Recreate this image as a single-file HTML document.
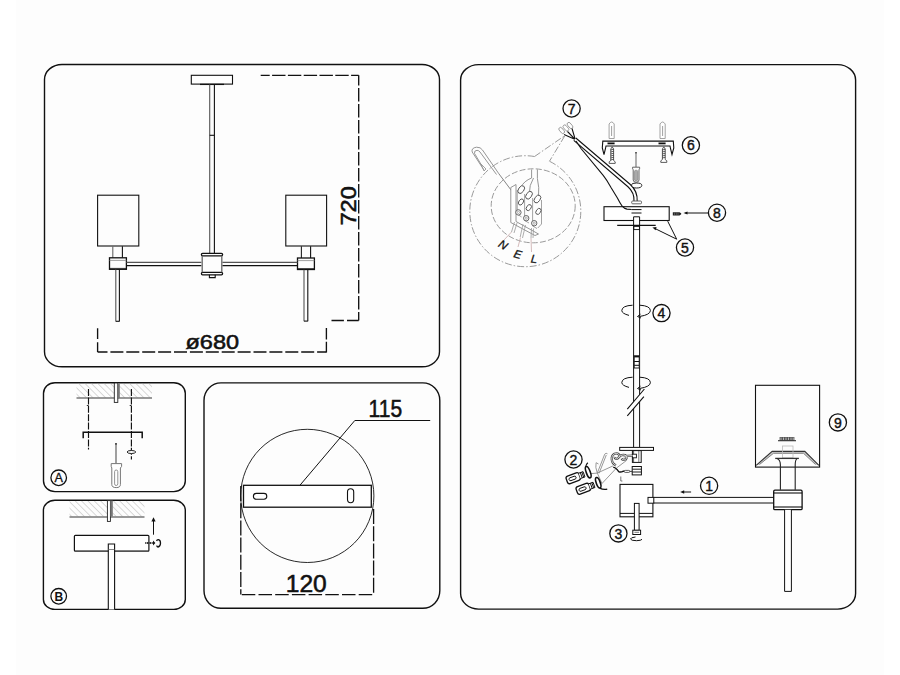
<!DOCTYPE html>
<html><head><meta charset="utf-8"><style>
html,body{margin:0;padding:0;background:#fff;width:900px;height:675px;overflow:hidden}
svg{display:block}
text{font-family:"Liberation Sans",sans-serif}
</style></head><body>
<svg width="900" height="675" viewBox="0 0 900 675">
<defs>
<pattern id="hatch" patternUnits="userSpaceOnUse" width="4.5" height="4.5" patternTransform="rotate(-45)">
<line x1="0" y1="0" x2="0" y2="4.5" stroke="#a0a0a0" stroke-width="0.8"/>
</pattern>
</defs>
<rect width="900" height="675" fill="#fff"/>
<rect x="16" y="0" width="868" height="675" fill="#fdfdfd"/>
<g fill="none" stroke="#111" stroke-width="1.4">
<!-- panels -->
<rect x="44.5" y="64.5" width="395" height="302.3" rx="17.5" ry="15"/>
<rect x="43.5" y="382.7" width="141.8" height="108.9" rx="11.5" ry="10.5"/>
<rect x="43.4" y="500.3" width="141.9" height="109.1" rx="11.5" ry="10"/>
<rect x="204" y="382.9" width="235.8" height="225.4" rx="17" ry="17.5"/>
<rect x="460.6" y="64.6" width="395" height="544.5" rx="18" ry="15.5"/>
</g>

<!-- ===== PANEL 1: main chandelier ===== -->
<g fill="none" stroke="#111" stroke-width="1.1">
<rect x="191.3" y="75.3" width="41.2" height="8.8" fill="#fff"/>
<line x1="200" y1="84.4" x2="224" y2="84.4" stroke-width="1.3"/>
<line x1="209.7" y1="84.5" x2="209.7" y2="253.5" stroke="#555"/>
<line x1="214.4" y1="84.5" x2="214.4" y2="253.5"/>
<line x1="209.7" y1="135.3" x2="214.4" y2="135.3"/>
<!-- shades -->
<rect x="97.6" y="195.2" width="41.2" height="50.8"/>
<rect x="285.8" y="195.2" width="40.8" height="50.8"/>
<!-- necks -->
<line x1="112.8" y1="246.2" x2="112.8" y2="257.8" stroke="#666"/>
<line x1="122.4" y1="246.2" x2="122.4" y2="257.8"/>
<line x1="301.4" y1="246.2" x2="301.4" y2="258" stroke="#222"/>
<line x1="310.6" y1="246.2" x2="310.6" y2="258"/>
<!-- collars -->
<rect x="109.5" y="257.8" width="16.9" height="11.5" stroke-width="1.3"/>
<line x1="109.5" y1="260.4" x2="126.4" y2="260.4" stroke="#888" stroke-width="0.8"/>
<line x1="109.5" y1="268.4" x2="126.4" y2="268.4" stroke-width="0.8"/>
<rect x="297.5" y="258" width="16.9" height="11.5" stroke-width="1.3"/>
<line x1="297.5" y1="260.6" x2="314.4" y2="260.6" stroke="#888" stroke-width="0.8"/>
<line x1="297.5" y1="268.6" x2="314.4" y2="268.6" stroke-width="0.8"/>
<!-- arms -->
<line x1="126.4" y1="262.4" x2="201.4" y2="262.4" stroke="#555"/>
<line x1="126.4" y1="265.6" x2="201.4" y2="265.6"/>
<line x1="222.4" y1="262.4" x2="297.5" y2="262.4" stroke="#555"/>
<line x1="222.4" y1="265.6" x2="297.5" y2="265.6"/>
<!-- hub -->
<rect x="201.4" y="253.3" width="21.2" height="2.5" rx="1.2" stroke-width="1.3"/>
<rect x="201.4" y="272.3" width="21.2" height="2.5" rx="1.2" stroke-width="1.3"/>
<line x1="202.2" y1="255.8" x2="202.2" y2="272.3" stroke="#666" stroke-width="1.3"/>
<line x1="221.8" y1="255.8" x2="221.8" y2="272.3" stroke="#666" stroke-width="1.3"/>
<path d="M209.4 274.8 V277.6 H215.2 V274.8"/>
<!-- down rods -->
<line x1="115.8" y1="269.5" x2="115.8" y2="321.5" stroke="#555"/>
<line x1="119.4" y1="269.5" x2="119.4" y2="321.5"/>
<line x1="115.8" y1="321.3" x2="119.4" y2="321.3"/>
<line x1="304" y1="269.7" x2="304" y2="321.3" stroke="#555"/>
<line x1="307.8" y1="269.7" x2="307.8" y2="321.3"/>
<line x1="304" y1="321.1" x2="307.8" y2="321.1"/>
</g>
<!-- dims -->
<g fill="none" stroke="#111" stroke-width="1.35">
<path d="M260.7 75.3 H358.7" stroke-dasharray="13.4 2.4" stroke-dashoffset="4.4"/>
<path d="M358.7 75.3 V320.5" stroke-dasharray="13.6 2.4" stroke-dashoffset="3.4"/>
<path d="M331.5 320.5 H358.7" stroke-dasharray="12.4 3.1 20 0"/>
<path d="M97.6 328.3 V352" stroke-dasharray="10.7 3.2 20 0"/>
<path d="M97.6 352 H326.4" stroke-dasharray="13 2.9" stroke-dashoffset="3.1"/>
<path d="M326.4 328 V352.4" stroke-dasharray="11.6 2.1 20 0"/>
</g>
<text x="0" y="0" font-size="21.5" fill="#111" stroke="#111" stroke-width="0.55" textLength="39.2" lengthAdjust="spacingAndGlyphs" transform="translate(355.9 225.5) rotate(-90)">720</text>
<text x="185.5" y="349.4" font-size="20.8" fill="#111" stroke="#111" stroke-width="0.55" textLength="53.6" lengthAdjust="spacingAndGlyphs">ø680</text>

<!-- ===== PANEL A ===== -->
<g>
<rect x="76.5" y="383.2" width="75.5" height="14.6" fill="url(#hatch)"/>
<line x1="76.5" y1="398" x2="152" y2="398" stroke="#777" stroke-width="1.6"/>
<rect x="114.3" y="383" width="3.5" height="19.4" fill="#fff" stroke="#222" stroke-width="0.9"/>
<rect x="117.8" y="383" width="2" height="15" fill="#777"/>
<path d="M86.8 405.5 H88.5 M129.7 405.5 H131.4" stroke="#333" stroke-width="1"/>
<g stroke="#111" stroke-width="1.15" stroke-dasharray="7 1.4" fill="none">
<line x1="88.5" y1="389" x2="88.5" y2="449.5"/>
<line x1="131.4" y1="389" x2="131.4" y2="459.5"/>
</g>
<path d="M83.2 438.2 V432.3 H142.2 V438.2" fill="none" stroke="#111" stroke-width="1.5"/>
<ellipse cx="131.4" cy="452" rx="4.3" ry="1.5" fill="#fff" stroke="#222" stroke-width="1"/>
<!-- screwdriver -->
<line x1="116" y1="443.6" x2="116" y2="463.5" stroke="#888" stroke-width="1.6"/>
<circle cx="116" cy="443.8" r="0.9" fill="#222"/>
<path d="M111.2 463.6 H121.6 V466.4 L120.4 468 V484.5 Q120.4 487.6 116.2 487.6 Q111.8 487.6 111.8 484.5 V468 L111.2 466.4 Z" fill="#fff" stroke="#777" stroke-width="1"/>
<rect x="114.6" y="470" width="3.2" height="15.5" rx="1.6" fill="none" stroke="#888" stroke-width="0.9"/>
<circle cx="58.7" cy="477.8" r="7.8" fill="none" stroke="#111" stroke-width="1.3"/>
<text x="58.7" y="482.2" font-size="12.6" text-anchor="middle" fill="#111" stroke="#111" stroke-width="0.3">A</text>
</g>

<!-- ===== PANEL B ===== -->
<g>
<rect x="69.5" y="501" width="75" height="15.5" fill="url(#hatch)"/>
<line x1="69.5" y1="517" x2="144.5" y2="517" stroke="#777" stroke-width="1.6"/>
<rect x="107.4" y="500.6" width="3" height="20.8" fill="#fff" stroke="#222" stroke-width="0.9"/>
<rect x="110.4" y="500.6" width="2.4" height="16" fill="#777"/>
<rect x="74.4" y="535.3" width="74.5" height="15.9" rx="1" fill="#fff" stroke="#111" stroke-width="1.2"/>
<line x1="75" y1="551.3" x2="148.6" y2="551.3" stroke="#555" stroke-width="1"/>
<path d="M108.3 609.5 V544 H114.6 V609.5" fill="#fff" stroke="#111" stroke-width="1.1"/>
<line x1="108.3" y1="549.5" x2="114.6" y2="549.5" stroke="#666" stroke-width="0.8"/>
<line x1="153.5" y1="534.7" x2="153.5" y2="520" stroke="#111" stroke-width="1"/>
<path d="M151.4 521.5 L153.5 517.3 L155.6 521.5 Z" fill="#111"/>
<line x1="145.3" y1="543" x2="153" y2="543" stroke="#222" stroke-width="2.2" stroke-dasharray="1 0.6"/>
<path d="M153 540.6 L155.4 543 L153 545.4 Z" fill="#111"/>
<path d="M156.6 541 Q157 539.4 158.4 539.6 Q160.6 540 160.5 543.3 Q160.3 546.8 158 547 Q156.8 546.8 156.8 545.6" fill="none" stroke="#111" stroke-width="1.3"/>
<circle cx="58.7" cy="596.3" r="7.8" fill="none" stroke="#111" stroke-width="1.3"/>
<text x="58.8" y="600.7" font-size="12" font-weight="bold" text-anchor="middle" fill="#111">B</text>
</g>

<!-- ===== PANEL MID ===== -->
<g fill="none" stroke="#111">
<circle cx="307.3" cy="495.9" r="66.6" stroke-width="0.9"/>
<rect x="243.5" y="485.3" width="127.8" height="21.9" fill="#fff" stroke-width="1.3"/>
<rect x="253.4" y="493.4" width="13.4" height="5.8" rx="2.9" stroke-width="1.1"/>
<rect x="347.5" y="488.8" width="6.2" height="13.9" rx="3.1" stroke-width="1.1"/>
<path d="M300 485.2 L354.8 420.5 H430.2" stroke-width="1"/>
<g stroke-width="1.3">
<path d="M240.8 486 V594.6" stroke-dasharray="15 2.2"/>
<path d="M373.6 508 V594.6" stroke-dasharray="15 2.2" stroke-dashoffset="-1"/>
<path d="M240.8 594.6 H373.6" stroke-dasharray="13.5 3.2" stroke-dashoffset="-1"/>
</g>
</g>
<text x="368.6" y="416.6" font-size="23" fill="#111" stroke="#111" stroke-width="0.55" textLength="33.5" lengthAdjust="spacingAndGlyphs">115</text>
<text x="285.8" y="591.7" font-size="23.5" fill="#111" stroke="#111" stroke-width="0.55" textLength="41" lengthAdjust="spacingAndGlyphs">120</text>

<!-- ===== PANEL RIGHT (exploded) ===== -->
<g id="right">
<!-- magnifier callout -->
<g fill="none" stroke="#9a9a9a" stroke-width="1">
<path d="M534.55 156.5 A55.5 55.5 0 1 0 549.46 161.26" stroke-dasharray="7 2 1.5 2"/>
<path d="M534.55 156.5 L565 135.5 L549.46 161.26" stroke-dasharray="7 2 1.5 2"/>
<ellipse cx="533.2" cy="205.8" rx="42" ry="37" stroke-dasharray="6 2.2"/>
</g>
<!-- hook -->
<g fill="none" stroke="#8a8a8a" stroke-width="0.9">
<path d="M484.3 170.6 L472.2 152 Q471 148 476.5 147.2 Q480.6 147 482.5 150 L498.7 173.5"/>
<path d="M482 166 L474.5 153.4 Q474 150.5 477 150.3 Q479 150.5 480 152 L496.5 174.5"/>
<path d="M498.7 173.5 L512.5 192" stroke="#777"/>
<path d="M481 164 L486 169 L484 171 Z" stroke="#999"/>
</g>
<!-- terminal block -->
<g fill="none" stroke="#8a8a8a" stroke-width="0.9">
<path d="M531.6 169.5 V178 M537.4 169.5 V178.5"/>
<path d="M531.6 178 Q524 181 521 187 M533.5 178 Q529 186 529.5 192 M537.4 178.5 Q539.5 188 538.5 196"/>
<path d="M510.8 187.5 L516 184.5 V221.5 L538.5 234 L535 235.5 L510.8 222.5 Z" fill="#fff"/>
<path d="M517.2 190 V214 L521.6 217 M524.6 194 V220.5 L529 223 M532.6 198 V226 L537 228.5 M541.5 200 V224 L537.8 228" stroke="#999"/>
</g>
<g fill="#fff" stroke="#555" stroke-width="0.9">
<ellipse cx="521.2" cy="189.6" rx="4.3" ry="2.7" transform="rotate(-55 521.2 189.6)"/>
<ellipse cx="529" cy="195.2" rx="4.3" ry="2.7" transform="rotate(-55 529 195.2)"/>
<ellipse cx="537.4" cy="199" rx="4.3" ry="2.7" transform="rotate(-55 537.4 199)"/>
<ellipse cx="521" cy="202" rx="3.3" ry="2.2" transform="rotate(-55 521 202)"/>
<ellipse cx="528.8" cy="207.6" rx="3.3" ry="2.2" transform="rotate(-55 528.8 207.6)"/>
<ellipse cx="538.4" cy="211.4" rx="3.3" ry="2.2" transform="rotate(-55 538.4 211.4)"/>
<circle cx="518.4" cy="212.4" r="2.7"/>
<circle cx="526.2" cy="218.2" r="2.7"/>
<circle cx="534.2" cy="223.2" r="2.7"/>
</g>
<g fill="none" stroke="#999" stroke-width="0.8">
<circle cx="518.4" cy="212.4" r="1.1"/><circle cx="526.2" cy="218.2" r="1.1"/><circle cx="534.2" cy="223.2" r="1.1"/>
<path d="M514.5 222 L511.5 232 M517 223 L514 233"/>
<path d="M523 224 L520.2 237 M525.5 225 L522.5 238"/>
<path d="M531.5 228 L531 238.2 M533.5 228.5 L533 238"/>
<path d="M511.5 232 L504 240 M520.5 237.5 L518 247 M531 238.2 L531.5 252" stroke="#c9a9a9"/>
</g>
<g font-style="italic" font-size="11.5" fill="#111" stroke="#111" stroke-width="0.3">
<text transform="translate(497.5 246) rotate(32)">N</text>
<text transform="translate(513 257) rotate(16)">E</text>
<text transform="translate(530.5 262.5) rotate(6)">L</text>
</g>
<!-- item 7: connectors + cable -->
<g fill="#fff" stroke="#8c8c8c" stroke-width="0.8">
<rect x="560" y="127" width="3.4" height="7" rx="1.7" transform="rotate(-40 561.7 130.5)"/>
<rect x="564.2" y="124.5" width="3.4" height="7" rx="1.7" transform="rotate(-40 565.9 128)"/>
<rect x="568.3" y="122" width="3.4" height="7" rx="1.7" transform="rotate(-40 570 125.5)"/>
</g>
<g fill="none" stroke="#111" stroke-width="1.1">
<path d="M564 134.5 L575.3 139.6 M567.5 131.5 L575.3 139.6 M572 128.5 L575.3 139.6"/>
<path d="M574.8 139.2 L629 185.5 Q636.3 192 635.6 201.5" stroke-width="4.3"/>
<path d="M574.8 139.2 L629 185.5 Q636.3 192 635.6 201.5" stroke="#fff" stroke-width="2.1"/>

</g>
<!-- item 6: bracket -->
<g fill="none" stroke="#111" stroke-width="1.1">
<path d="M673.3 141.1 H602.8 L602.3 148 L604 154.5 L605.5 148.5 L606 146 H670 L670.5 148.5 L672 154.5 L673.8 148 Z" fill="#fff"/>
<line x1="607.5" y1="143.4" x2="614.6" y2="143.4" stroke-width="1.8"/>
<line x1="658.5" y1="143.4" x2="665.6" y2="143.4" stroke-width="1.8"/>
</g>
<g fill="#fff" stroke="#8c8c8c" stroke-width="0.8">
<path d="M609.1 138.5 V124 Q611.6 120 614.2 124 V138.5 Z"/>
<path d="M660 138.5 V124 Q662.6 120 665.2 124 V138.5 Z"/>
</g>
<g stroke="#777" stroke-width="0.7">
<line x1="611.6" y1="126" x2="611.6" y2="136"/><line x1="662.6" y1="126" x2="662.6" y2="136"/>
</g>
<g fill="#fff" stroke="#333" stroke-width="0.8">
<path d="M612.2 146.8 L613.6 149 V160.5 L615.2 161.8 V163.4 H609.2 V161.8 L610.8 160.5 V149 Z"/>
<path d="M663.8 146.8 L665.2 149 V159.5 L666.8 160.8 V162.4 H660.8 V160.8 L662.4 159.5 V149 Z"/>
</g>
<g stroke="#222" stroke-width="0.7">
<path d="M610.6 150 L613.8 149.2 M610.6 152 L613.8 151.2 M610.6 154 L613.8 153.2 M610.6 156 L613.8 155.2 M610.6 158 L613.8 157.2 M610.6 160 L613.8 159.2"/>
<path d="M662.2 150 L665.4 149.2 M662.2 152 L665.4 151.2 M662.2 154 L665.4 153.2 M662.2 156 L665.4 155.2 M662.2 158 L665.4 157.2"/>
</g>
<!-- screwdriver -->
<line x1="636" y1="152.5" x2="636" y2="167" stroke="#888" stroke-width="1.3"/>
<circle cx="636" cy="152.8" r="0.8" fill="#222"/>
<path d="M632.6 167.2 H639.6 V168.8 L639 169.8 V180 Q639 182.2 636.1 182.2 Q633.2 182.2 633.2 180 V169.8 L632.6 168.8 Z" fill="#fff" stroke="#555" stroke-width="0.9"/>
<rect x="634.4" y="170.2" width="3.4" height="10.5" rx="1.5" fill="#aaa" stroke="#777" stroke-width="0.6"/>
<!-- grommets -->
<path d="M631.5 185 Q631 183 636.5 183 Q642 183 641.8 185.5 Q641.5 188 636.5 188 Q631.8 188 631.5 185 Z" fill="#fff" stroke="#111" stroke-width="0.9"/>
<rect x="631.7" y="201" width="9.8" height="2.8" rx="1" fill="#fff" stroke="#555" stroke-width="0.9"/>
<!-- canopy 5 -->
<rect x="604" y="206.7" width="65.2" height="13.8" fill="#fff" stroke="#111" stroke-width="1.1"/>
<path d="M631.5 209.6 H641.5 M631.5 213 H641.5" stroke="#111" stroke-width="1" fill="none"/>
<path d="M576 141 L581 148.5 L603.2 175.3 Q607 180 611 187.5 L617.4 197.9 Q620 203 622.2 206.2 Q624 208.5 627 209.1 L631.5 209.5" stroke="#111" stroke-width="1.1" fill="none"/>
<!-- rod -->
<g fill="none" stroke="#111" stroke-width="1">
<path d="M633.6 216.8 H639.6 V447.4 M633.6 216.8 V447.4" fill="#fff"/>
<rect x="633.8" y="226.4" width="5.6" height="3.2" stroke-width="0.9"/>
<line x1="617.2" y1="225.4" x2="655.7" y2="225.4" stroke-width="1.2"/>
<rect x="634.2" y="355.8" width="5" height="12.2" fill="#fff" stroke-width="0.9"/>
<line x1="634.2" y1="356.6" x2="639.2" y2="356.6" stroke-width="1.6"/>
<line x1="634.2" y1="361.5" x2="639.2" y2="361.5"/>
<line x1="634.2" y1="365.3" x2="639.2" y2="365.3"/>
</g>
<!-- break lines -->
<path d="M627.3 409.1 L644.4 389 L643.9 396.7 L627.3 415.9 Z" fill="#fff" stroke="none"/>
<path d="M627.3 409.1 L644.4 389 M627.3 415.9 L643.9 396.7" stroke="#111" stroke-width="1.1" fill="none"/>
<!-- rotation arrows -->
<g fill="none" stroke="#111" stroke-width="1">
<path d="M629 315.4 Q621.8 313.5 621.8 310.5 Q622 305.7 632.6 305.2 M639.8 305.2 Q650.4 305.8 650.4 310.7 Q650 314.8 640 316.4"/>
<path d="M640.5 314.2 L637.5 316.5 L641 318" />
<path d="M629 387.4 Q621.8 385.5 621.8 382.5 Q622 377.7 632.6 377.2 M639.8 377.2 Q650.4 377.8 650.4 382.7 Q650 386.8 640 388.4"/>
<path d="M640.5 386.2 L637.5 388.5 L641 390" />
</g>
<!-- flange, socket, nut -->
<rect x="619.7" y="447.4" width="33.8" height="3" fill="#fff" stroke="#111" stroke-width="1"/>
<rect x="632.4" y="450.6" width="8.8" height="11.8" fill="#fff" stroke="#111" stroke-width="1"/>
<line x1="638.8" y1="451" x2="638.8" y2="462" stroke="#777" stroke-width="1"/>
<line x1="633.6" y1="451" x2="633.6" y2="462" stroke="#333" stroke-width="0.8"/>
<rect x="632.4" y="454.2" width="4" height="3.6" fill="#fff" stroke="#111" stroke-width="0.9"/>
<rect x="632.2" y="466.5" width="9.2" height="8.4" fill="#fff" stroke="#111" stroke-width="1"/>
<path d="M632.2 469.2 H641.4 M632.2 472 H641.4" stroke="#222" stroke-width="1"/>
<!-- clips & wires -->
<g fill="none" stroke="#8c8c8c" stroke-width="0.9">
<path d="M590 473.7 L597.3 473.1 L613.2 465.8 M597.3 473.1 L604.7 454.2 M599 473.4 L606.3 455 M604.7 454.2 Q606 452.5 607.5 453.8 M597.3 473.1 Q595 467 596.1 462.7 L598.5 464"/>
<path d="M597.3 473.1 L602 483.5 L616.3 468.2 L626.7 460.3"/>
</g>
<path d="M616 465.4 C611 463.5 610.3 456 614.5 453.8 C618 452.3 620.5 455 618.6 457.6 C617.3 459.5 614.6 459 614.8 456.8 M618.6 457.6 C621 454 626.2 454 626.6 457.4 C626.8 460 622.6 460.6 621.6 458.6 M623.5 456.2 L632.6 455.6" fill="none" stroke="#444" stroke-width="2.3"/>
<path d="M616 465.4 C611 463.5 610.3 456 614.5 453.8 C618 452.3 620.5 455 618.6 457.6 C617.3 459.5 614.6 459 614.8 456.8 M618.6 457.6 C621 454 626.2 454 626.6 457.4 C626.8 460 622.6 460.6 621.6 458.6 M623.5 456.2 L632.6 455.6" fill="none" stroke="#fff" stroke-width="0.8"/>
<path d="M613.2 467.4 Q615.5 467 618.7 471.6 Q620.5 472.6 623 471.3 L624.5 471.3" fill="none" stroke="#111" stroke-width="1.4"/>
<rect x="624.2" y="470.4" width="5.6" height="2" rx="1" fill="#fff" stroke="#333" stroke-width="0.8"/>
<line x1="629.8" y1="471.4" x2="632.2" y2="471.4" stroke="#333" stroke-width="0.9"/>
<path d="M620.8 476.5 V481 H622.4" fill="none" stroke="#555" stroke-width="0.8"/>
<!-- bulbs -->
<g fill="#fff" stroke="#111" stroke-width="1.3">
<g transform="translate(573.2 478.2) rotate(-20)">
<rect x="-6.8" y="-4" width="13.6" height="8" rx="2.2"/>
<rect x="-4.4" y="-1.5" width="7.4" height="3" rx="1.5" stroke-width="0.9"/>
<path d="M6.8 -2.8 H11.5 V2.8 H6.8 M8.6 -2.8 V2.8 M10.2 -2.8 V2.8" stroke-width="0.9"/>
<ellipse cx="16.2" cy="-0.5" rx="2" ry="6" stroke-width="1.6"/>
<path d="M15.5 -6.2 Q16.5 -8.5 19 -9.5" fill="none" stroke-width="1.2"/>
</g>
<g transform="translate(583.2 488.8) rotate(-20)">
<rect x="-6.8" y="-4" width="13.6" height="8" rx="2.2"/>
<rect x="-4.4" y="-1.5" width="7.4" height="3" rx="1.5" stroke-width="0.9"/>
<path d="M6.8 -2.8 H11.5 V2.8 H6.8 M8.6 -2.8 V2.8 M10.2 -2.8 V2.8" stroke-width="0.9"/>
<ellipse cx="16.2" cy="-0.5" rx="2" ry="5.5" stroke-width="1.6"/>
<path d="M15.8 5 Q18.5 8 22.5 8.5" fill="none" stroke-width="1.4"/>
</g>
</g>
<!-- hub box -->
<rect x="620" y="484.4" width="32.9" height="32.4" fill="#fff" stroke="#111" stroke-width="1.1"/>
<line x1="620" y1="513.4" x2="652.9" y2="513.4" stroke="#111" stroke-width="1"/>
<rect x="634.4" y="503.4" width="4.7" height="27" fill="#fff" stroke="#111" stroke-width="1"/>
<rect x="632.8" y="530.2" width="7.8" height="4.3" fill="#fff" stroke="#111" stroke-width="1"/>
<line x1="634.4" y1="532.3" x2="639.1" y2="532.3" stroke="#555" stroke-width="0.8"/>
<path d="M635.5 537 Q630.5 537.5 630.5 539 Q630.8 540.6 636.5 540.7 Q641.5 540.5 642 539.3" fill="none" stroke="#111" stroke-width="1"/>
<!-- arm -->
<rect x="648" y="497.4" width="5.8" height="5.8" fill="#fff" stroke="#111" stroke-width="1"/>
<path d="M653.8 497.4 H773.8 M653.8 503 H773.8" stroke="#111" stroke-width="1" fill="none"/>
<line x1="691.1" y1="492" x2="683" y2="492" stroke="#111" stroke-width="1"/>
<path d="M680.2 492 L684.2 490.2 L684.2 493.8 Z" fill="#111"/>
<!-- shade 9 -->
<g fill="none" stroke="#111" stroke-width="1.1">
<rect x="755.5" y="385.3" width="64.1" height="81.8"/>
<path d="M756.2 465.4 L772.2 451.4 H804.8 L818.9 465.4 L815.5 464.5 L803.5 453.3 H773.5 L759.5 464.5 Z" fill="#c8c8c8" stroke="none"/>
<path d="M756.2 465.4 L772.2 451.4 H804.8 L818.9 465.4" stroke="#333"/>
<path d="M759.5 464.5 L773.5 453.3 H803.5 L815.5 464.5" stroke="#777" stroke-width="0.9"/>
<rect x="779.6" y="437" width="14.8" height="3.7" fill="#555" stroke="none"/>
<path d="M781 437.5 V440 M783.5 437.5 V440 M786 437.5 V440 M788.5 437.5 V440 M791 437.5 V440 M793.2 437.5 V440" stroke="#ddd" stroke-width="0.7"/>
<line x1="778" y1="440.7" x2="796" y2="440.7" stroke="#333"/>
<rect x="782.6" y="446" width="10.4" height="11.8" stroke="#bbb" stroke-width="0.8"/>
<path d="M775.2 458.4 H798.9" stroke="#333" stroke-width="1.3"/>
<path d="M777 458.6 Q780.4 460 780.4 465 V489.8 M797 458.6 Q795.2 460 795.2 465 V489.8" stroke="#222"/>
<rect x="773.7" y="490.2" width="28.4" height="19.5" rx="1.2" fill="#fff" stroke-width="1.3"/>
<line x1="773.7" y1="493" x2="802.1" y2="493" stroke-width="1.1"/>
<line x1="773.7" y1="507" x2="802.1" y2="507" stroke-width="1.1"/>
<path d="M784.6 509.8 V591.4 H791.4 V509.8" fill="#fff" stroke-width="1"/>
</g>
<!-- label circles -->
<g fill="none" stroke="#111" stroke-width="1.3">
<circle cx="571.6" cy="108.5" r="8.6"/>
<circle cx="690.9" cy="145.3" r="8.6"/>
<circle cx="717" cy="212.7" r="8.6"/>
<circle cx="685" cy="247.5" r="8.6"/>
<circle cx="661.5" cy="313.1" r="8.6"/>
<circle cx="573.5" cy="459.5" r="8.6"/>
<circle cx="618.4" cy="533.4" r="8.6"/>
<circle cx="709.1" cy="485.8" r="8.6"/>
<circle cx="837.9" cy="422.4" r="8.6"/>
</g>
<g font-size="14" fill="#111" stroke="#111" stroke-width="0.4" text-anchor="middle">
<text x="571.6" y="113.6">7</text>
<text x="690.9" y="150.3">6</text>
<text x="717" y="217.8">8</text>
<text x="685" y="252.6">5</text>
<text x="661.5" y="318.1">4</text>
<text x="573.5" y="464.6">2</text>
<text x="618.4" y="538.5">3</text>
<text x="709.1" y="490.9">1</text>
<text x="837.9" y="427.6">9</text>
</g>
<!-- leader lines -->
<g fill="none" stroke="#111" stroke-width="1">
<path d="M708.4 213 H685.5"/>
<path d="M676.7 239.2 L667.7 221.2 M676.7 239.2 L654.5 228.3"/>
</g>
<path d="M683.5 213 L687.5 211.6 L687.5 214.4 Z" fill="#111"/>
<path d="M652.4 227.4 L656.6 227 L655.6 230.2 Z" fill="#111"/>
<path d="M672.8 212.2 H679.5 L681.2 213.2 V214.2 L679.5 215.6 H672.8 Z" fill="#222"/>
<path d="M674.5 212.6 V215.2 M676.3 212.6 V215.2 M678 212.6 V215.2" stroke="#888" stroke-width="0.5"/>
</g>
</svg>
</body></html>
